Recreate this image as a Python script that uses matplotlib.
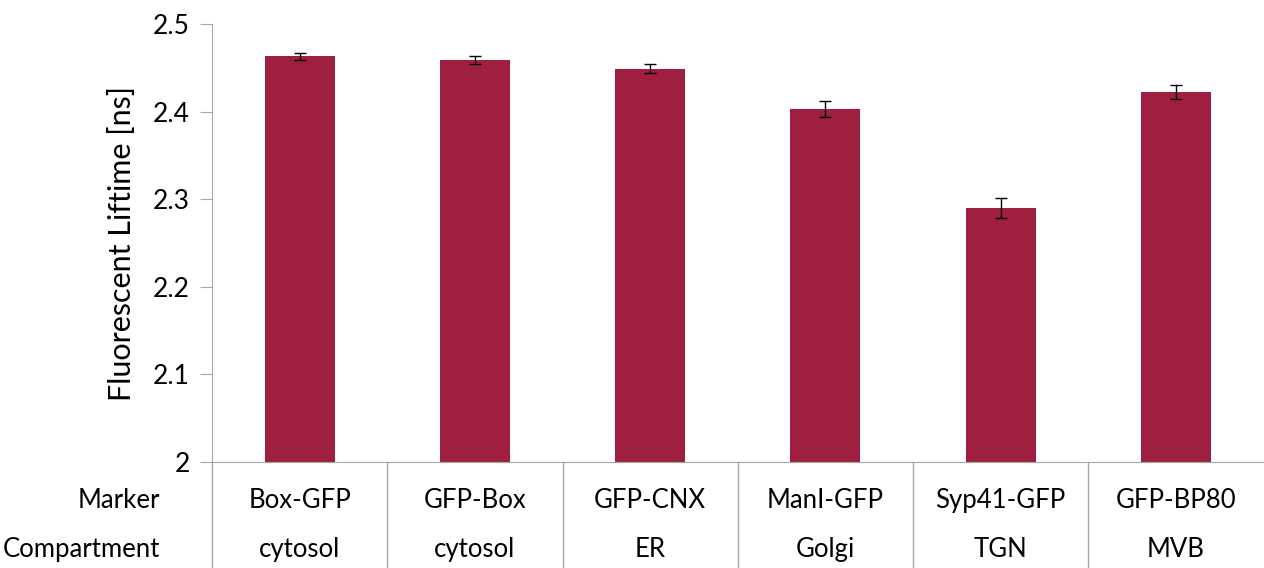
import matplotlib
matplotlib.use("Agg")
import matplotlib.pyplot as plt
import matplotlib.transforms as mtransforms

markers = ["Box-GFP", "GFP-Box", "GFP-CNX", "ManI-GFP", "Syp41-GFP", "GFP-BP80"]
compartments = ["cytosol", "cytosol", "ER", "Golgi", "TGN", "MVB"]
lifetimes = [2.463, 2.459, 2.449, 2.403, 2.290, 2.422]
errors = [0.004, 0.005, 0.005, 0.009, 0.011, 0.008]
row_labels = ["Marker", "Compartment"]

plt.rcParams["font.family"] = ["Lato", "DejaVu Sans"]
bar_color = "#9E1F3F"
line_color = "#A6A6A6"
fs = 18.5

fig = plt.figure(figsize=(12.64, 5.68), dpi=100)
ax = fig.add_axes([0.1677, 0.1866, 0.832, 0.7711])

x = list(range(len(markers)))
ax.bar(x, [v - 2 for v in lifetimes], bottom=2, width=0.4, color=bar_color,
       yerr=errors, error_kw=dict(ecolor="black", elinewidth=1, capsize=4, capthick=1))

ax.set_xlim(-0.5, len(markers) - 0.5)
ax.set_ylim(2.0, 2.5)
ax.set_yticks([2.0, 2.1, 2.2, 2.3, 2.4, 2.5])
ax.set_yticklabels(["2", "2.1", "2.2", "2.3", "2.4", "2.5"])
ax.set_xticks([])
ax.tick_params(axis="y", length=9, color=line_color, labelsize=19, pad=7)
ax.set_ylabel("Fluorescent Liftime [ns]", fontsize=22, labelpad=12)

for side in ["top", "right"]:
    ax.spines[side].set_visible(False)
for side in ["left", "bottom"]:
    ax.spines[side].set_color(line_color)

# table below the axis
trans = mtransforms.blended_transform_factory(ax.transData, ax.transAxes)
row_y = [-0.087, -0.2]
for i in range(len(markers)):
    ax.text(i, row_y[0], markers[i], transform=trans, ha="center", va="center", fontsize=fs)
    ax.text(i, row_y[1], compartments[i], transform=trans, ha="center", va="center", fontsize=fs)
for b in [i - 0.5 for i in range(len(markers))]:
    ax.plot([b, b], [0, -0.26], transform=trans, color=line_color, lw=1, clip_on=False)

lab_trans = mtransforms.blended_transform_factory(fig.transFigure, ax.transAxes)
for lbl, yy in zip(row_labels, row_y):
    ax.text(160 / 1264, yy, lbl, transform=lab_trans, ha="right", va="center", fontsize=fs)

fig.savefig("out.png", dpi=100)
